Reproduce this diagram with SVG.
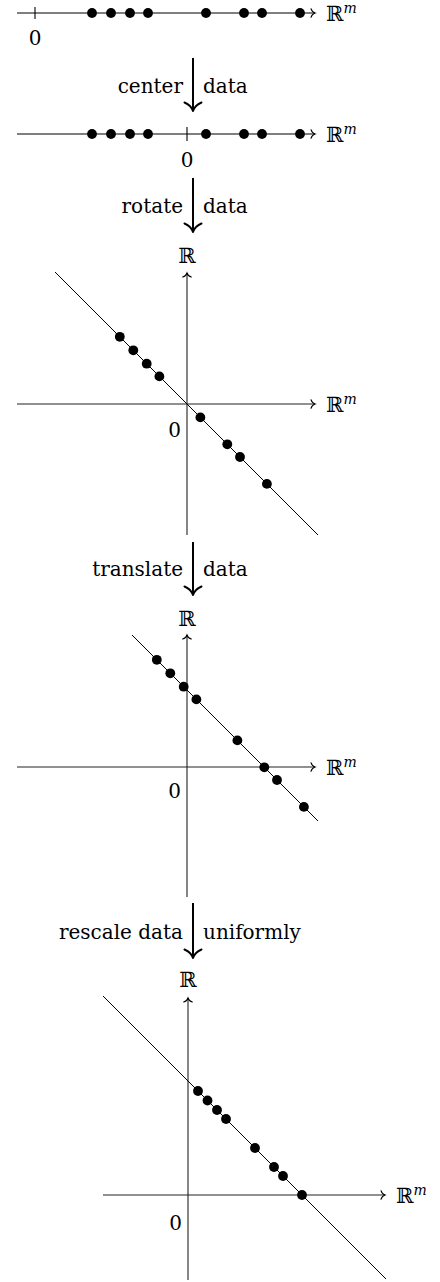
<svg xmlns="http://www.w3.org/2000/svg" width="440" height="1282" viewBox="0 0 440 1282">
<style>
  .txt { font-family: "DejaVu Serif", "DejaVu Sans", serif; font-size: 20px; fill: #000; }
  .rr { font-size: 21px; }
  .sup { font-size: 14px; font-style: italic; }
  .axis { stroke: #222; stroke-width: 1.1; fill: none; }
  .diag { stroke: #000; stroke-width: 1; fill: none; }
  .hline { stroke: #000; stroke-width: 1.2; fill: none; }
  .tick { stroke: #000; stroke-width: 1.1; }
  .dot { fill: #000; }
  .big { stroke: #000; stroke-width: 2; fill: none; }
</style>
<defs>
  <marker id="ax" markerUnits="userSpaceOnUse" markerWidth="20" markerHeight="20" refX="0" refY="0" orient="auto" overflow="visible">
    <path d="M-4,-4.3 C-3.3,-1.9 -1.3,-0.4 0,0 C-1.3,0.4 -3.3,1.9 -4,4.3" fill="none" stroke="#000" stroke-width="1.1" stroke-linecap="round"/>
  </marker>
  <marker id="bg" markerUnits="userSpaceOnUse" markerWidth="30" markerHeight="30" refX="0" refY="0" orient="auto" overflow="visible">
    <path d="M-8.5,-8.5 C-6.5,-3.8 -2.8,-0.9 0,0 C-2.8,0.9 -6.5,3.8 -8.5,8.5" fill="none" stroke="#000" stroke-width="2" stroke-linecap="round" stroke-linejoin="round"/>
  </marker>
</defs>

<g id="line0">
  <line class="hline" x1="17" y1="13" x2="315" y2="13" marker-end="url(#ax)"/>
  <line class="tick" x1="35" y1="7" x2="35" y2="19"/>
  <circle class="dot" cx="92" cy="13" r="4.9"/>
  <circle class="dot" cx="111" cy="13" r="4.9"/>
  <circle class="dot" cx="130" cy="13" r="4.9"/>
  <circle class="dot" cx="148" cy="13" r="4.9"/>
  <circle class="dot" cx="206" cy="13" r="4.9"/>
  <circle class="dot" cx="244" cy="13" r="4.9"/>
  <circle class="dot" cx="262" cy="13" r="4.9"/>
  <circle class="dot" cx="300" cy="13" r="4.9"/>
  <text class="txt" x="35" y="45" text-anchor="middle">0</text>
  <text class="txt rr" x="326" y="21">ℝ<tspan class="sup" dy="-8">m</tspan></text>
</g>

<g id="line1">
  <line class="hline" x1="17" y1="134" x2="315" y2="134" marker-end="url(#ax)"/>
  <line class="tick" x1="187" y1="127" x2="187" y2="141"/>
  <circle class="dot" cx="92" cy="134" r="4.9"/>
  <circle class="dot" cx="111" cy="134" r="4.9"/>
  <circle class="dot" cx="130" cy="134" r="4.9"/>
  <circle class="dot" cx="148" cy="134" r="4.9"/>
  <circle class="dot" cx="206" cy="134" r="4.9"/>
  <circle class="dot" cx="244" cy="134" r="4.9"/>
  <circle class="dot" cx="262" cy="134" r="4.9"/>
  <circle class="dot" cx="300" cy="134" r="4.9"/>
  <text class="txt" x="187" y="167" text-anchor="middle">0</text>
  <text class="txt rr" x="326" y="142">ℝ<tspan class="sup" dy="-8">m</tspan></text>
</g>

<g id="plot1">
  <line class="axis" x1="187" y1="535" x2="187" y2="273" marker-end="url(#ax)"/>
  <line class="axis" x1="17" y1="404" x2="315" y2="404" marker-end="url(#ax)"/>
  <line class="diag" x1="55" y1="272" x2="318" y2="535"/>
  <circle class="dot" cx="119.8" cy="336.8" r="4.9"/>
  <circle class="dot" cx="133.3" cy="350.3" r="4.9"/>
  <circle class="dot" cx="146.7" cy="363.7" r="4.9"/>
  <circle class="dot" cx="159.4" cy="376.4" r="4.9"/>
  <circle class="dot" cx="200.4" cy="417.4" r="4.9"/>
  <circle class="dot" cx="227.3" cy="444.3" r="4.9"/>
  <circle class="dot" cx="240" cy="457" r="4.9"/>
  <circle class="dot" cx="266.9" cy="483.9" r="4.9"/>
  <text class="txt rr" x="187" y="263" text-anchor="middle">ℝ</text>
  <text class="txt" x="181" y="437" text-anchor="end">0</text>
  <text class="txt rr" x="326" y="412">ℝ<tspan class="sup" dy="-8">m</tspan></text>
</g>

<g id="plot2">
  <line class="axis" x1="187" y1="897" x2="187" y2="635" marker-end="url(#ax)"/>
  <line class="axis" x1="17" y1="767" x2="315" y2="767" marker-end="url(#ax)"/>
  <line class="diag" x1="132" y1="635" x2="318" y2="821"/>
  <circle class="dot" cx="156.8" cy="659.8" r="4.9"/>
  <circle class="dot" cx="170.3" cy="673.3" r="4.9"/>
  <circle class="dot" cx="183.7" cy="686.7" r="4.9"/>
  <circle class="dot" cx="196.4" cy="699.4" r="4.9"/>
  <circle class="dot" cx="237.4" cy="740.4" r="4.9"/>
  <circle class="dot" cx="264.3" cy="767.3" r="4.9"/>
  <circle class="dot" cx="277" cy="780" r="4.9"/>
  <circle class="dot" cx="303.9" cy="806.9" r="4.9"/>
  <text class="txt rr" x="187" y="626" text-anchor="middle">ℝ</text>
  <text class="txt" x="181" y="798" text-anchor="end">0</text>
  <text class="txt rr" x="326" y="775">ℝ<tspan class="sup" dy="-8">m</tspan></text>
</g>

<g id="plot3">
  <line class="axis" x1="188" y1="1280" x2="188" y2="998" marker-end="url(#ax)"/>
  <line class="axis" x1="103" y1="1195" x2="385" y2="1195" marker-end="url(#ax)"/>
  <line class="diag" x1="103" y1="996" x2="386" y2="1279"/>
  <circle class="dot" cx="198" cy="1091" r="4.9"/>
  <circle class="dot" cx="207.5" cy="1100.5" r="4.9"/>
  <circle class="dot" cx="217" cy="1110" r="4.9"/>
  <circle class="dot" cx="226" cy="1119" r="4.9"/>
  <circle class="dot" cx="255" cy="1148" r="4.9"/>
  <circle class="dot" cx="274" cy="1167" r="4.9"/>
  <circle class="dot" cx="283" cy="1176" r="4.9"/>
  <circle class="dot" cx="302" cy="1195" r="4.9"/>
  <text class="txt rr" x="188" y="987" text-anchor="middle">ℝ</text>
  <text class="txt" x="182" y="1230" text-anchor="end">0</text>
  <text class="txt rr" x="396" y="1203">ℝ<tspan class="sup" dy="-8">m</tspan></text>
</g>

<g id="connectors">
  <line class="big" x1="193" y1="58" x2="193" y2="111" marker-end="url(#bg)"/>
  <text class="txt" x="183" y="93" text-anchor="end">center</text>
  <text class="txt" x="203" y="93">data</text>

  <line class="big" x1="193" y1="178" x2="193" y2="232" marker-end="url(#bg)"/>
  <text class="txt" x="183" y="213" text-anchor="end">rotate</text>
  <text class="txt" x="203" y="213">data</text>

  <line class="big" x1="193" y1="542" x2="193" y2="595" marker-end="url(#bg)"/>
  <text class="txt" x="183" y="576" text-anchor="end">translate</text>
  <text class="txt" x="203" y="576">data</text>

  <line class="big" x1="193" y1="903" x2="193" y2="958" marker-end="url(#bg)"/>
  <text class="txt" x="183" y="939" text-anchor="end">rescale data</text>
  <text class="txt" x="203" y="939">uniformly</text>
</g>
</svg>
